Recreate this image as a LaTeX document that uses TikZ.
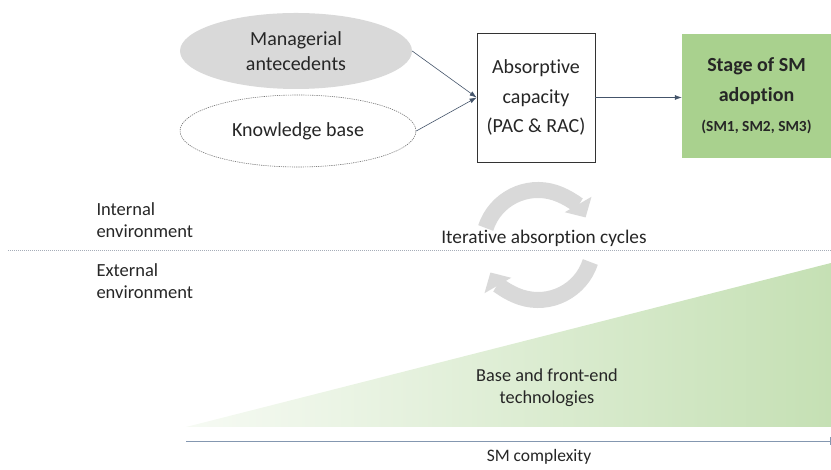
\documentclass[tikz,border=0pt]{standalone}
\usepackage{fontspec}
\setmainfont{Carlito}[Ligatures=NoCommon]
\usetikzlibrary{shapes.geometric,arrows.meta}

\definecolor{linkblue}{HTML}{44546A}
\definecolor{axisblue}{HTML}{8497B0}
\definecolor{dotgray}{HTML}{A6ADB8}
\definecolor{softgray}{HTML}{D9D9D9}
\definecolor{smgreen}{HTML}{A9D18E}
\definecolor{techgreen}{HTML}{C5E0B4}

\begin{document}
\begin{tikzpicture}[x=1pt, y=1pt,
    every node/.style={font=\fontsize{18.5}{22}\selectfont, text=black!85},
    ell/.style={ellipse, inner sep=0pt, align=center, font=\fontsize{20}{24.5}\selectfont},
    capbox/.style={draw=black!80, line width=0.8pt, minimum width=118pt, minimum height=129pt,
        align=center, font=\fontsize{20}{29.5}\selectfont},
    stagebox/.style={fill=smgreen, minimum width=149pt, minimum height=124pt, align=center,
        font=\fontsize{20}{30}\selectfont\bfseries},
    link/.style={draw=linkblue, line width=0.6pt, -{Latex[length=7pt, width=5pt]}},
    cycarrow/.style={draw=softgray, line width=16pt, -{Triangle[length=15pt, width=30pt]}}]
    \useasboundingbox (0,0) rectangle (831,470);

    %% drivers of absorptive capacity
    \node[ell, fill=softgray, minimum width=232pt, minimum height=76pt] (mgr) at (296,419) {Managerial\\antecedents};
    \node[ell, draw=black!55, line width=0.6pt, dash pattern=on 1.2pt off 1pt,
        minimum width=236pt, minimum height=72pt] (kb) at (298,339) {Knowledge base};
    \node[capbox] (acap) at (536,372.5) {Absorptive\\capacity\\(PAC \& RAC)};
    \node[stagebox] (sm) at (756.5,374) {Stage of SM\\adoption\\{\fontsize{15.4}{30}\selectfont (SM1, SM2, SM3)}};

    \draw[link] (mgr.east) -- (acap.west);
    \draw[link] (kb.east) -- (acap.west);
    \draw[link] (acap.east) -- (acap.east -| sm.west);

    %% environments
    \draw[dotgray, line width=0.6pt, dash pattern=on 1pt off 1pt] (8,220) -- (831,220);
    \node[anchor=west, align=left] (int) at (93,250) {Internal\\environment};
    \node[anchor=west, align=left] (ext) at (93,189) {External\\environment};

    %% absorption cycles
    \coordinate (cyc) at (538,225);
    \draw[cycarrow] ([shift={(162:55)}]cyc) arc[start angle=162, end angle=30, radius=55];
    \draw[cycarrow] ([shift={(-18:55)}]cyc) arc[start angle=-18, end angle=-150, radius=55];
    \node[font=\fontsize{19.3}{22}\selectfont] (iter) at (544,232) {Iterative absorption cycles};

    %% technologies and complexity
    \shade[left color=techgreen!15, right color=techgreen] (186,43) -- (831,43) -- (831,207) -- cycle;
    \node[align=center, font=\fontsize{18.3}{22}\selectfont] (tech) at (547,82) {Base and front-end\\technologies};
    \coordinate (cxl) at (186,29);
    \coordinate (cxr) at (830.5,29);
    \draw[axisblue, line width=0.8pt, -{Bar[width=8pt]}] (cxl) -- (cxr);
    \node[font=\fontsize{17.5}{22}\selectfont] (cx) at (539,13) {SM complexity};
\end{tikzpicture}
\end{document}
